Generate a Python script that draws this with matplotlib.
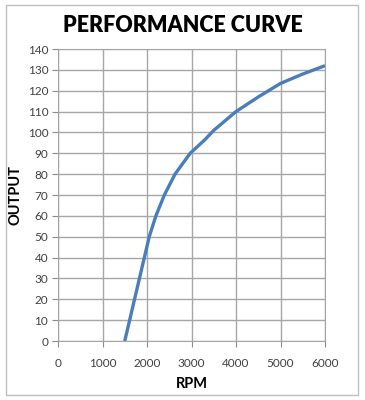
import matplotlib
matplotlib.use("Agg")
import matplotlib.pyplot as plt
from matplotlib.patches import Rectangle

# values
rpm = [1500, 1940, 2050, 2200, 2390, 2630, 2970, 3300, 3500, 4000, 4500, 5000, 5500, 6000]
output = [0, 40, 50, 60, 70, 80, 90, 96.5, 101, 110, 117, 123.5, 128, 132]

x_ticks = [0, 1000, 2000, 3000, 4000, 5000, 6000]
y_ticks = list(range(0, 141, 10))

plt.rcParams['font.family'] = ['Lato', 'DejaVu Sans']

fig = plt.figure(figsize=(3.65, 4.0), dpi=100)
fig.patches.append(Rectangle((6 / 365, 5 / 400), 352 / 365, 390 / 400,
                             transform=fig.transFigure, fill=False,
                             edgecolor='#bfbfbf', linewidth=1.0))

ax = fig.add_axes([58 / 365, 59 / 400, 267 / 365, 292 / 400])
ax.plot(rpm, output, color='#4a7ebb', linewidth=2.4, solid_joinstyle='round',
        solid_capstyle='butt', zorder=3)

ax.set_xlim(0, 6000)
ax.set_ylim(0, 140)
ax.set_xticks(x_ticks)
ax.set_yticks(y_ticks)
ax.tick_params(axis='both', labelsize=8.5, color='#8c8c8c', length=4,
               direction='out', pad=3, labelcolor='#404040')
ax.tick_params(axis='x', pad=8)
ax.grid(True, color='#a6a6a6', linewidth=1.0)
ax.set_axisbelow(True)
for s in ax.spines.values():
    s.set_color('#a6a6a6')

ax.set_xlabel('RPM', fontsize=10.5, fontweight='bold', labelpad=6)
ax.set_ylabel('OUTPUT', fontsize=10.5, fontweight='bold', labelpad=4)
fig.text(0.5, 0.935, 'PERFORMANCE CURVE', ha='center', va='center',
         fontsize=15.5, fontweight='heavy')

fig.savefig('out.png', dpi=100)
